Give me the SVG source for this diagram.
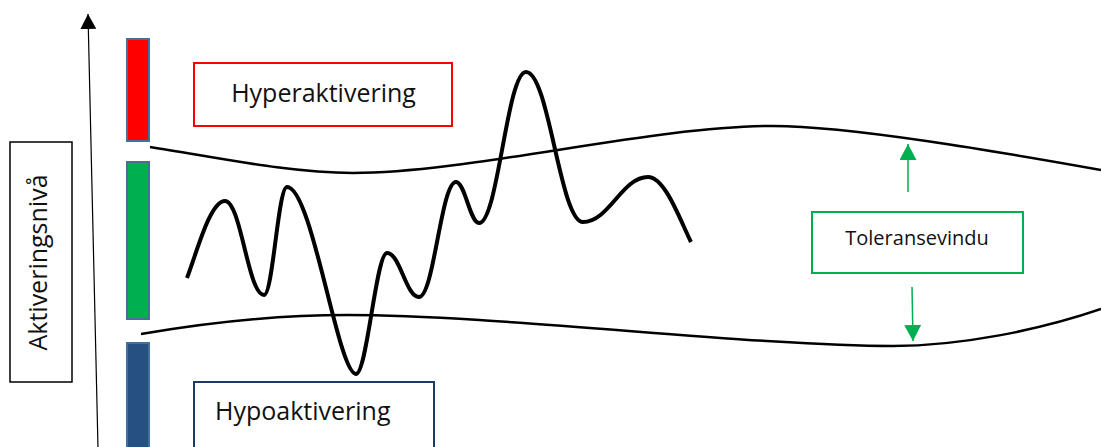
<svg xmlns="http://www.w3.org/2000/svg" width="1101" height="447" viewBox="0 0 1101 447">
  <style>
    .lbl { font-family: "Open Sans", "Noto Sans", "Liberation Sans", sans-serif; fill: #111; }
    .bar { stroke: #41719C; stroke-width: 2; }
    .curve { fill: none; stroke: #000; stroke-width: 2.5; }
    .green { stroke: #00B050; stroke-width: 1.5; fill: none; }
  </style>
  <defs>
    <marker id="blackHead" markerWidth="16" markerHeight="16" refX="15" refY="8" orient="auto" markerUnits="userSpaceOnUse">
      <path d="M0,0 L15,8 L0,16 Z" fill="#000"/>
    </marker>
    <marker id="greenHead" markerWidth="17" markerHeight="17" refX="16" refY="8.5" orient="auto" markerUnits="userSpaceOnUse">
      <path d="M0,0 L16,8.5 L0,17 Z" fill="#00B050"/>
    </marker>
  </defs>
  <rect width="1101" height="447" fill="#fff"/>

  <g id="connectors">
    <line x1="98" y1="448" x2="88" y2="14" stroke="#000" stroke-width="1.2" marker-end="url(#blackHead)"/>
    <line class="green" x1="908" y1="192" x2="908" y2="144" marker-end="url(#greenHead)"/>
    <line class="green" x1="912" y1="287" x2="913" y2="341" marker-end="url(#greenHead)"/>
  </g>

  <g id="tolerance-upper">
    <path class="curve" d="M150,147 C220,158 290,173 353,173 C470,173 650,126 773,126 C850,126 1000,152 1101,170"/>
  </g>
  <g id="tolerance-lower">
    <path class="curve" d="M141,334 C210,322 280,315 347,315 C500,315 750,346 893,346 C960,346 1040,330 1101,309"/>
  </g>

  <g id="activation-wave">
    <path fill="none" stroke="#000" stroke-width="4" stroke-linecap="butt" stroke-linejoin="round"
      d="M187,278 C197,252 210,201 225,201 C241,201 248,295 264,295 C273,295 278,187 287,187 C312,187 338,374 356,374 C367,374 376,253 387,253 C400,253 406,297 419,297 C434,297 441,182 456,182 C465,182 470,223 479,223 C498,223 507,72 526,72 C549,72 560,222 583,222 C609,222 622,177 648,177 C665,177 680,220 691,242"/>
  </g>

  <g id="bar-hyper">
    <rect class="bar" x="127" y="39" width="22" height="102" fill="#FF0000"/>
  </g>
  <g id="bar-tolerance">
    <rect class="bar" x="127" y="162" width="22" height="157" fill="#00B050"/>
  </g>
  <g id="bar-hypo">
    <rect class="bar" x="127" y="343" width="22" height="110" fill="#255080"/>
  </g>

  <g id="label-aktiveringsniva">
    <rect x="10" y="142" width="62" height="240" fill="#fff" stroke="#000" stroke-width="1.5"/>
    <text class="lbl" x="0" y="0" font-size="25" text-anchor="middle" transform="translate(47,262.5) rotate(-90)">Aktiveringsnivå</text>
  </g>

  <g id="label-hyperaktivering">
    <rect x="194" y="63" width="258" height="63" fill="#fff" stroke="#FF0000" stroke-width="2"/>
    <text class="lbl" x="323.5" y="102" font-size="25" text-anchor="middle">Hyperaktivering</text>
  </g>

  <g id="label-hypoaktivering">
    <rect x="194" y="382" width="240" height="75" fill="#fff" stroke="#1F3864" stroke-width="2"/>
    <text class="lbl" x="215" y="420" font-size="25">Hypoaktivering</text>
  </g>

  <g id="label-toleransevindu">
    <rect x="812" y="212" width="211" height="61" fill="#fff" stroke="#00B050" stroke-width="2"/>
    <text class="lbl" x="917" y="245" font-size="20" text-anchor="middle">Toleransevindu</text>
  </g>
</svg>
